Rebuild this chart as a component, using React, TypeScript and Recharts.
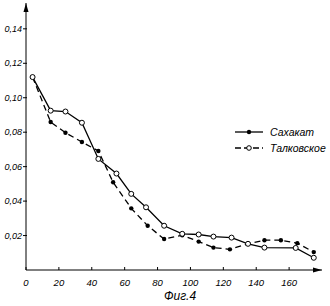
import React from 'react';
import { LineChart, Line, XAxis, YAxis, ReferenceDot } from 'recharts';

const solidX = [4, 15, 24, 34, 44, 55, 64, 73, 84, 95, 105, 114, 125, 135, 145, 164, 175];
const solidY = [0.112, 0.0925, 0.092, 0.0855, 0.0645, 0.056, 0.0442, 0.0364, 0.0257, 0.021, 0.0206, 0.0194, 0.0188, 0.0152, 0.013, 0.0128, 0.0071];
const dashedX = [4, 15, 24, 34, 44, 53, 64, 74, 84, 95, 105, 114, 124, 135, 145, 155, 165, 175];
const dashedY = [0.112, 0.0859, 0.0797, 0.0743, 0.0691, 0.0509, 0.0358, 0.0257, 0.018, 0.0202, 0.0165, 0.013, 0.012, 0.0152, 0.0173, 0.0173, 0.0156, 0.0104];
const xTicks = [0, 20, 40, 60, 80, 100, 120, 140, 160];
const yTicks = [0.02, 0.04, 0.06, 0.08, 0.1, 0.12, 0.14];
const seriesNames = ['Сахакат', 'Талковское'];
const titleText = 'Фиг.4';

const solidData = solidX.map((x, i) => ({ x, y: solidY[i] }));
const dashedData = dashedX.map((x, i) => ({ x, y: dashedY[i] }));

const FONT = '"Liberation Sans", Arial, sans-serif';

const XTick = (props: any) => {
  const { x, y, payload } = props;
  return (
    <g>
      <line x1={x} x2={x} y1={y - 3} y2={y} stroke="#000" strokeWidth={1} />
      <text x={x} y={y + 16} textAnchor="middle" fontStyle="italic" fontSize={9.5} fontFamily={FONT} fill="#000">
        {payload.value}
      </text>
    </g>
  );
};

const YTick = (props: any) => {
  const { x, y, payload } = props;
  const label = Number(payload.value).toFixed(2).replace('.', ',');
  return (
    <g>
      <line x1={x - 3} x2={x + 1} y1={y} y2={y} stroke="#000" strokeWidth={1} />
      <text x={x - 4} y={y + 3} textAnchor="end" fontStyle="italic" fontSize={9} fontFamily={FONT} fill="#000">
        {label}
      </text>
    </g>
  );
};

const ArrowRight = (props: any) => {
  const { cx, cy } = props;
  return <path d={`M${cx} ${cy} L${cx - 9} ${cy - 2.5} L${cx - 9} ${cy + 2.5} Z`} fill="#000" />;
};
const ArrowUp = (props: any) => {
  const { cx, cy } = props;
  return <path d={`M${cx} ${cy} L${cx - 2.5} ${cy + 9} L${cx + 2.5} ${cy + 9} Z`} fill="#000" />;
};

const OpenDot = (props: any) => {
  const { cx, cy } = props;
  return <circle cx={cx} cy={cy} r={2.5} fill="#fff" stroke="#000" strokeWidth={1} />;
};
const FilledDot = (props: any) => {
  const { cx, cy } = props;
  return <circle cx={cx} cy={cy} r={2.2} fill="#000" stroke="none" />;
};

export default function App() {
  return (
    <div style={{ position: 'absolute', left: 0, top: 0, width: 330, height: 306, background: '#fff' }}>
      <LineChart width={330} height={306} margin={{ top: 3, right: 8, left: 0, bottom: 16 }}>
        <XAxis
          type="number"
          dataKey="x"
          domain={[0, 180]}
          ticks={xTicks}
          allowDataOverflow
          axisLine={{ stroke: '#000', strokeWidth: 1 }}
          tickLine={false}
          tickSize={0}
          tickMargin={0}
          tick={<XTick />}
          height={20}
          interval={0}
        />
        <YAxis
          type="number"
          dataKey="y"
          domain={[0, 0.155]}
          ticks={yTicks}
          allowDataOverflow
          axisLine={{ stroke: '#000', strokeWidth: 1 }}
          tickLine={false}
          tickSize={0}
          tickMargin={0}
          tick={<YTick />}
          width={26}
          interval={0}
        />
        <Line
          data={dashedData}
          dataKey="y"
          name={seriesNames[1]}
          stroke="#000"
          strokeWidth={1.3}
          strokeDasharray="6 4"
          dot={<FilledDot />}
          isAnimationActive={false}
        />
        <Line
          data={solidData}
          dataKey="y"
          name={seriesNames[0]}
          stroke="#000"
          strokeWidth={1.3}
          dot={<OpenDot />}
          isAnimationActive={false}
        />
        <ReferenceDot x={180} y={0} ifOverflow="visible" shape={<ArrowRight />} />
        <ReferenceDot x={0} y={0.155} ifOverflow="visible" shape={<ArrowUp />} />
      </LineChart>
      <svg width={110} height={40} style={{ position: 'absolute', left: 225, top: 122 }}>
        <line x1={10} x2={38} y1={10} y2={10} stroke="#000" strokeWidth={1.3} />
        <circle cx={24} cy={10} r={2.2} fill="#000" />
        <text x={45} y={14} fontStyle="italic" fontSize={10.5} fontFamily={FONT} fill="#000">{seriesNames[0]}</text>
        <line x1={10} x2={38} y1={26} y2={26} stroke="#000" strokeWidth={1.3} strokeDasharray="6 3" />
        <circle cx={24} cy={26} r={2.3} fill="#fff" stroke="#000" strokeWidth={1} />
        <text x={45} y={30} fontStyle="italic" fontSize={10.5} fontFamily={FONT} fill="#000">{seriesNames[1]}</text>
      </svg>
      <div style={{ position: 'absolute', left: 150, top: 289, width: 60, textAlign: 'center', fontFamily: FONT, fontStyle: 'italic', fontSize: 12, lineHeight: '14px' }}>
        {titleText}
      </div>
    </div>
  );
}
